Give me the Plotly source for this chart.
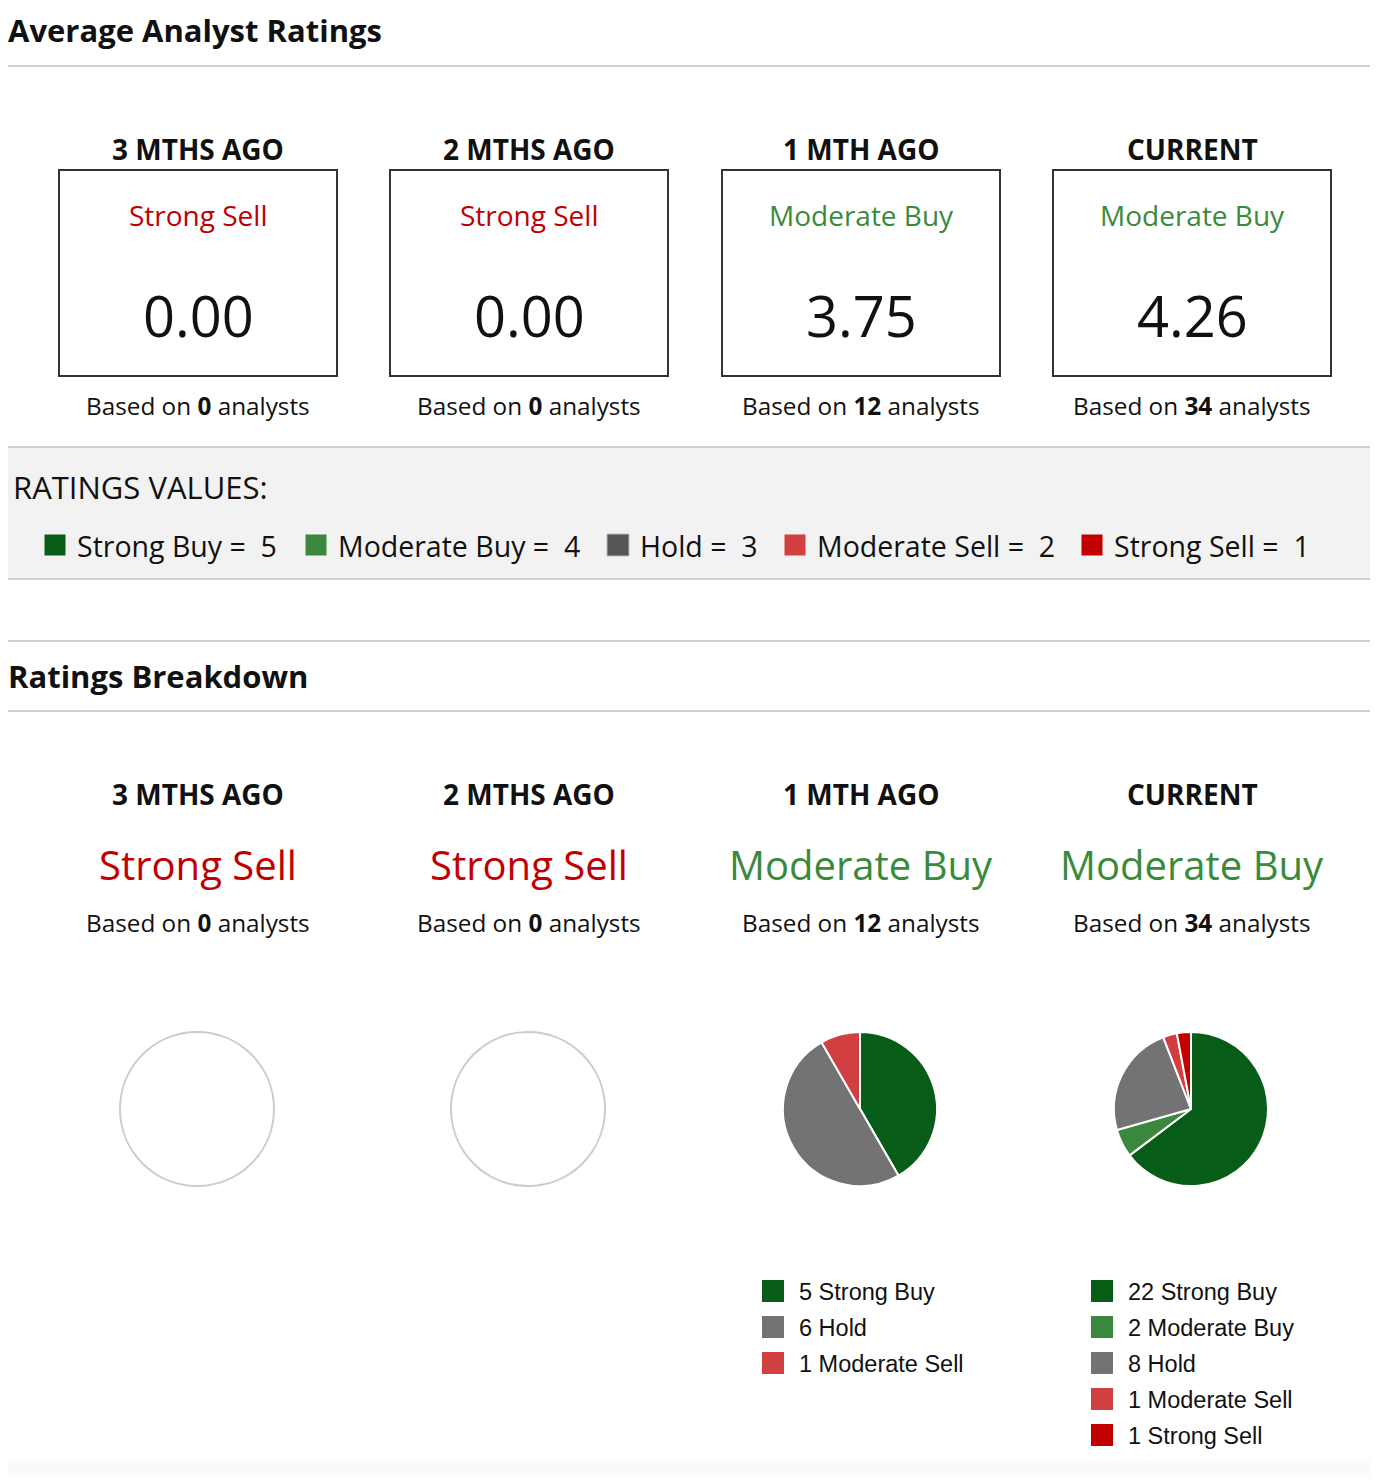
import plotly.graph_objects as go

W, H = 1378, 1484
OFF = 8                      # page body margin around the plot div
FW, FH = W - 2 * OFF, H - 2 * OFF

# ---- data ----
periods = ["3 MTHS AGO", "2 MTHS AGO", "1 MTH AGO", "CURRENT"]
consensus = ["Strong Sell", "Strong Sell", "Moderate Buy", "Moderate Buy"]
avg_scores = [0.00, 0.00, 3.75, 4.26]
analyst_counts = [0, 0, 12, 34]

rating_names = ["Strong Buy", "Moderate Buy", "Hold", "Moderate Sell", "Strong Sell"]
rating_values = [5, 4, 3, 2, 1]

breakdown_3m = [0, 0, 0, 0, 0]
breakdown_2m = [0, 0, 0, 0, 0]
breakdown_1m = [5, 0, 6, 1, 0]
breakdown_now = [22, 2, 8, 1, 1]
breakdowns = [breakdown_3m, breakdown_2m, breakdown_1m, breakdown_now]

# ---- style ----
FONT = "Open Sans"
LEG_FONT = "Liberation Sans"
rating_colors = ["#075c18", "#3a873d", "#737373", "#d23f40", "#c00000"]
key_colors = ["#075c18", "#3a873d", "#555555", "#d23f40", "#c00000"]
text_colors = {"Strong Sell": "#c00000", "Moderate Buy": "#3a8a3c",
               "Strong Buy": "#075c18", "Hold": "#555555", "Moderate Sell": "#d23f40"}
LINE = "#d0d0d0"

col_x = [198, 529, 861, 1192]
box_w, box_top, box_bot = 278, 170, 376
pie_cy, pie_r = 1109, 77

fig = go.Figure()
shapes = []
ann = []


def text(x, y, s, size, color="#111", bold=False, anchor="center", font=FONT):
    if bold:
        s = "<b>%s</b>" % s
    ann.append(dict(x=x, y=y, xref="x", yref="y", text=s, showarrow=False,
                    xanchor=anchor, yanchor="middle",
                    font=dict(family=font, size=size, color=color)))


def section_title(y, s):
    # left-edge title, placed on the paper edge so it is never clipped
    ann.append(dict(x=0, y=y, xref="paper", yref="y", text="<b>%s</b>" % s,
                    showarrow=False, xanchor="left", yanchor="middle", xshift=-2,
                    font=dict(family=FONT, size=31, color="#111")))


def hline(y):
    shapes.append(dict(type="line", xref="x", yref="y", x0=0, x1=W, y0=y, y1=y,
                       line=dict(color=LINE, width=2)))


# section headers
section_title(30, "Average Analyst Ratings")
hline(66)

for i, cx in enumerate(col_x):
    text(cx, 149, periods[i], 28, bold=True)
    shapes.append(dict(type="rect", xref="x", yref="y",
                       x0=cx - box_w / 2, x1=cx + box_w / 2, y0=box_top, y1=box_bot,
                       line=dict(color="#333333", width=2)))
    text(cx, 215, consensus[i], 28, color=text_colors[consensus[i]])
    text(cx, 315, "%.2f" % avg_scores[i], 56)
    text(cx, 405, "Based on <b>%d</b> analysts" % analyst_counts[i], 24.3)

# ratings values band
shapes.append(dict(type="rect", xref="x", yref="y", x0=0, x1=W, y0=447, y1=579,
                   fillcolor="#f2f2f2", line=dict(width=0), layer="below"))
hline(447)
hline(579)
text(11, 487, "RATINGS VALUES:", 31, anchor="left")

key_x = [55, 316, 618, 795, 1092]
fig.add_trace(go.Scatter(
    x=key_x, y=[545] * len(key_x), mode="markers", hoverinfo="skip",
    marker=dict(symbol="square", size=22, color=key_colors,
                line=dict(color=["#f2f2f2", "#f2f2f2", "#bbbbbb", "#f2f2f2", "#f2f2f2"], width=1)),
    showlegend=False))
for kx, name, val in zip(key_x, rating_names, rating_values):
    text(kx + 20, 546, "%s = \u00a0%d" % (name, val), 28.5, anchor="left")

hline(641)
section_title(676, "Ratings Breakdown")
hline(711)

legend_x = [None, None, 773, 1102]
for i, cx in enumerate(col_x):
    text(cx, 794, periods[i], 28, bold=True)
    text(cx, 864, consensus[i], 40, color=text_colors[consensus[i]])
    text(cx, 922, "Based on <b>%d</b> analysts" % analyst_counts[i], 24.3)

    counts = breakdowns[i]
    if sum(counts) == 0:
        shapes.append(dict(type="circle", xref="x", yref="y",
                           x0=cx - pie_r - 1, x1=cx + pie_r - 1,
                           y0=pie_cy - pie_r, y1=pie_cy + pie_r,
                           line=dict(color="#cccccc", width=2)))
        continue

    pcx = cx - 1
    fig.add_trace(go.Pie(
        values=counts, labels=rating_names, sort=False, direction="clockwise",
        rotation=0, textinfo="none", hoverinfo="label+value",
        marker=dict(colors=rating_colors, line=dict(color="white", width=2)),
        domain=dict(x=[(pcx - pie_r - OFF) / FW, (pcx + pie_r - OFF) / FW],
                    y=[1 - (pie_cy + pie_r - OFF) / FH, 1 - (pie_cy - pie_r - OFF) / FH]),
        showlegend=False))

    # legend list under the pie
    shown = [(n, c, col) for n, c, col in zip(rating_names, counts, rating_colors) if c > 0]
    ys = [1291 + 36 * k for k in range(len(shown))]
    fig.add_trace(go.Scatter(
        x=[legend_x[i]] * len(shown), y=ys, mode="markers", hoverinfo="skip",
        marker=dict(symbol="square", size=22, color=[s[2] for s in shown]),
        showlegend=False))
    for (n, c, col), y in zip(shown, ys):
        text(legend_x[i] + 24, y + 1, "%d %s" % (c, n), 23.5, anchor="left", font=LEG_FONT)

# faint fade at the very bottom
shapes.append(dict(type="rect", xref="x", yref="y", x0=0, x1=W, y0=1460, y1=H,
                   fillcolor="#fafafa", line=dict(width=0), layer="below"))

fig.update_layout(
    width=FW, height=FH, margin=dict(l=0, r=0, t=0, b=0),
    paper_bgcolor="white", plot_bgcolor="white",
    xaxis=dict(range=[OFF, OFF + FW], visible=False, fixedrange=True),
    yaxis=dict(range=[OFF + FH, OFF], visible=False, fixedrange=True),
    shapes=shapes, annotations=ann, showlegend=False,
)

fig.write_html("out.html")
